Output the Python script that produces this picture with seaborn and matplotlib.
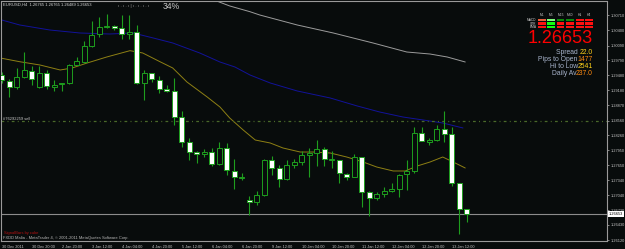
import matplotlib
matplotlib.use("Agg")
import matplotlib.pyplot as plt
from matplotlib.patches import Rectangle
import numpy as np
import pandas as pd
import seaborn as sns

# ---------------- data (EURUSD H4, 30 Dec 2011 - 13 Jan 2012) ----------------
opens = [1.29493, 1.29373, 1.29243, 1.29453, 1.29573, 1.29243, 1.29533, 1.29253, 1.29303, 1.29323,
         1.29693, 1.29753, 1.30073, 1.30323, 1.30463, 1.30493, 1.30453, 1.30323, 1.30363, 1.29323,
         1.29523, 1.29393, 1.29213, 1.29153, 1.28623, 1.28113, 1.27923, 1.27873, 1.27923, 1.27673,
         1.27993, 1.27533, 1.27383, 1.26943, 1.26893, 1.27043, 1.27753, 1.27583, 1.27363, 1.27643,
         1.27723, 1.27853, 1.27893, 1.27973, 1.27753, 1.27753, 1.27473, 1.27413, 1.27813, 1.27093,
         1.26973, 1.27053, 1.27123, 1.27163, 1.27463, 1.27533, 1.28313, 1.28113, 1.28153, 1.28383,
         1.28283, 1.27283, 1.26765]
highs = [1.29553, 1.29403, 1.29633, 1.29963, 1.29673, 1.29673, 1.29593, 1.29383, 1.29333, 1.29713,
         1.29863, 1.30173, 1.30583, 1.30673, 1.30743, 1.30503, 1.30703, 1.30713, 1.30503, 1.29593,
         1.29533, 1.29463, 1.29293, 1.29423, 1.28763, 1.28203, 1.27943, 1.27973, 1.27993, 1.28113,
         1.28093, 1.27783, 1.27493, 1.27023, 1.27133, 1.27773, 1.27833, 1.27653, 1.27753, 1.27773,
         1.27943, 1.27993, 1.28163, 1.28023, 1.27943, 1.27763, 1.27493, 1.27873, 1.27823, 1.27113,
         1.27093, 1.27213, 1.27283, 1.27463, 1.27753, 1.28433, 1.28433, 1.28203, 1.28473, 1.28763,
         1.28423, 1.27293, 1.26765]
lows = [1.29323, 1.29043, 1.29203, 1.29423, 1.29283, 1.29223, 1.29203, 1.29163, 1.29163, 1.29303,
        1.29683, 1.29743, 1.30063, 1.30273, 1.30443, 1.30403, 1.30223, 1.30223, 1.29313, 1.28973,
        1.29343, 1.29123, 1.29143, 1.28473, 1.28023, 1.27753, 1.27703, 1.27813, 1.27623, 1.27653,
        1.27443, 1.27163, 1.27343, 1.26640, 1.26833, 1.27023, 1.27443, 1.27213, 1.27343, 1.27583,
        1.27653, 1.27413, 1.27623, 1.27623, 1.27593, 1.27283, 1.27343, 1.27403, 1.26803, 1.26603,
        1.26943, 1.27003, 1.27103, 1.26993, 1.27143, 1.27493, 1.28133, 1.28063, 1.28143, 1.28113,
        1.27223, 1.26243, 1.26489]
closes = [1.29383, 1.29243, 1.29453, 1.29593, 1.29403, 1.29533, 1.29263, 1.29293, 1.29323, 1.29703,
          1.29773, 1.30083, 1.30313, 1.30463, 1.30493, 1.30443, 1.30323, 1.30363, 1.29323, 1.29523,
          1.29403, 1.29213, 1.29153, 1.28623, 1.28113, 1.27923, 1.27873, 1.27923, 1.27673, 1.27993,
          1.27543, 1.27403, 1.27403, 1.26893, 1.27043, 1.27753, 1.27583, 1.27363, 1.27643, 1.27723,
          1.27853, 1.27893, 1.27973, 1.27773, 1.27773, 1.27483, 1.27413, 1.27813, 1.27093, 1.26973,
          1.27053, 1.27123, 1.27163, 1.27453, 1.27533, 1.28303, 1.28143, 1.28163, 1.28383, 1.28283,
          1.27293, 1.26765, 1.26653]

# moving averages (bar position, price)
ma_slow_bar = [0, 2.4, 5.1, 7.8, 9.4, 11.4, 14, 17.1, 18.8, 21.1, 22.8, 24.7, 27.4, 29.1, 30.4, 32.2,
               33.8, 35.8, 37.5, 39.8, 41.5, 43.8, 46, 48.2, 50, 52.2, 53.8, 55.4, 57.1, 58.8, 60.2, 61.8]
ma_slow = [1.29830, 1.29760, 1.29693, 1.29591, 1.29632, 1.29734, 1.29856, 1.29985, 1.29938, 1.29760,
           1.29632, 1.29346, 1.29040, 1.28836, 1.28612, 1.28367, 1.28163, 1.28102, 1.28000, 1.27918,
           1.27918, 1.27898, 1.27816, 1.27714, 1.27612, 1.27531, 1.27531, 1.27633, 1.27714, 1.27816,
           1.27714, 1.27592]
ma_blue_bar = [0, 2.4, 6.4, 10.4, 14.4, 17.5, 20.2, 22.8, 26.4, 29.1, 31.1, 33.1, 35.8, 39.4, 43.8,
               47.4, 50.4, 53.5, 56.2, 58.8, 61.5]
ma_blue = [1.30611, 1.30509, 1.30407, 1.30346, 1.30325, 1.30346, 1.30244, 1.30142, 1.29938, 1.29754,
           1.29652, 1.29489, 1.29326, 1.29163, 1.29020, 1.28857, 1.28734, 1.28632, 1.28571, 1.28510,
           1.28408]
ma_gray_bar = [28.9, 30.4, 33.1, 34.4, 38.4, 39.4, 44.2, 49.5, 54, 57.1, 59.4, 61.8]
ma_gray = [1.30984, 1.30897, 1.30780, 1.30713, 1.30550, 1.30509, 1.30346, 1.30142, 1.29958, 1.29917,
           1.29856, 1.29754]

bid_price = 1.26653
order_price = 1.28557
order_label = "#76292259 sell"

price_ticks = [1.26120, 1.26430, 1.26730, 1.27040, 1.27340, 1.27650, 1.27950, 1.28260, 1.28560,
               1.28870, 1.29180, 1.29480, 1.29790, 1.30090, 1.30400, 1.30710]
time_tick_bars = [0, 4, 8, 12, 16, 20, 24, 28, 32, 36, 40, 44, 48, 52, 56, 60]
time_labels = ["30 Dec 2011", "30 Dec 20:00", "2 Jan 20:00", "3 Jan 12:00", "4 Jan 04:00",
               "4 Jan 20:00", "5 Jan 12:00", "6 Jan 04:00", "6 Jan 20:00", "9 Jan 12:00",
               "10 Jan 04:00", "10 Jan 20:00", "11 Jan 12:00", "12 Jan 04:00", "12 Jan 20:00",
               "13 Jan 12:00"]

header = "EURUSD,H4  1.26765 1.26765 1.26489 1.26653"
tf_names = ["M1", "M5", "M15", "M30", "H1", "H4"]
ind_names = ["MACD", "STR", "EMA"]
signal_colors = [["#E8603C", "#7CFF7C", "#0A8A0A", "#0A8A0A", "#FF1010", "#FF1010"],
                 ["#FF1010", "#10FF10", "#FF1010", "#FF1010", "#FF1010", "#FF1010"],
                 ["#FF1010", "#10FF10", "#FF1010", "#FF1010", "#FF1010", "#FF1010"]]
info_labels = ["Spread ", "Pips to Open", "Hi to Low", "Daily Av"]
info_values = ["22.0", "1477", "2541", "237.0"]
info_colors = ["#FFD21A", "#FF8A10", "#FFD21A", "#FF8A10"]

# ---------------- style ----------------
BG = "#080C0C"
GREEN = "#1E9E1E"
sns.set_theme(style="dark", rc={"axes.facecolor": BG, "figure.facecolor": BG,
                                "savefig.facecolor": BG})
plt.rcParams["font.family"] = ["Liberation Sans", "DejaVu Sans"]

W, H = 625, 249
fig = plt.figure(figsize=(W / 100, H / 100), dpi=100)


def fx(px):
    return px / W


def fy(py):
    return 1 - py / H


ax = fig.add_axes([fx(1), fy(241), fx(607) - fx(1), fy(1.5) - fy(241)])
ax.set_facecolor(BG)
ax.grid(False)

df = pd.DataFrame({"bar": np.arange(len(opens)), "open": opens, "high": highs,
                   "low": lows, "close": closes})
df["bull"] = df["close"] >= df["open"]
df["bottom"] = df[["open", "close"]].min(axis=1)
df["height"] = (df["close"] - df["open"]).abs().clip(lower=0.00005)

# moving averages
sns.lineplot(x=ma_gray_bar, y=ma_gray, ax=ax, color="#9C9C9C", linewidth=0.7,
             estimator=None, sort=False, legend=False, zorder=1)
sns.lineplot(x=ma_blue_bar, y=ma_blue, ax=ax, color="#12129A", linewidth=0.7,
             estimator=None, sort=False, legend=False, zorder=1)
sns.lineplot(x=ma_slow_bar, y=ma_slow, ax=ax, color="#8E8014", linewidth=0.7,
             estimator=None, sort=False, legend=False, zorder=1)

# order line and bid line
ax.axhline(order_price, color="#4A6A2A", lw=0.9, ls=(0, (2.2, 2.6, 0.8, 2.6)), zorder=1)
ax.text(0.2, order_price, order_label, fontsize=2.9, color="#C8C8C8", va="bottom", ha="left",
        zorder=5)
ax.axhline(bid_price, color="#8C8C8C", lw=0.8, zorder=1)

# candles
ax.vlines(df["bar"], df["low"], df["high"], color=GREEN, lw=0.8, zorder=2)
ax.bar(df["bar"], df["height"], bottom=df["bottom"], width=0.62,
       color=np.where(df["bull"], BG, "#FFFFFF"), edgecolor=GREEN, linewidth=0.7, zorder=3)

ax.set_xlim(-0.093, 80.7)
ax.set_ylim(1.26103, 1.30988)

ax.set_xticks(time_tick_bars)
ax.set_xticklabels(time_labels, ha="left")
ax.yaxis.tick_right()
ax.set_yticks(price_ticks)
ax.set_yticklabels([f"{p:.5f}" for p in price_ticks])
ax.tick_params(axis="both", colors="#B8B8B8", labelcolor="#C8C8C8", labelsize=2.8,
               length=1.6, width=0.5, pad=1.2, direction="out")
ax.tick_params(axis="x", pad=1.0)
for s in ax.spines.values():
    s.set_color("#9A9A9A")
    s.set_linewidth(0.8)
    s.set_visible(True)

# ---------------- overlay texts ----------------
fig.text(fx(3), fy(5), header, fontsize=3.0, color="#D8D8D8", ha="left", va="center")
fig.text(fx(118), fy(6.5), "ı . ı . ı | ı . ı . ı . ı", fontsize=3.2, color="#9A9A9A",
         ha="left", va="center")
fig.text(fx(163), fy(6.5), "34%", fontsize=6.2, color="#C8C8C8", ha="left", va="center")

# signal table
col_left = [538.3, 547.3, 556.7, 566, 576, 585]
row_top = [19, 22.4, 25.9]
for j, name in enumerate(tf_names):
    fig.text(fx(col_left[j] + 3.8), fy(15), name, fontsize=2.4, color="#C8C8C8",
             ha="center", va="center")
for i, name in enumerate(ind_names):
    fig.text(fx(536.5), fy(row_top[i] + 1.2), name, fontsize=2.3, color="#C8C8C8",
             ha="right", va="center")
    for j in range(len(tf_names)):
        fig.patches.append(Rectangle((fx(col_left[j]), fy(row_top[i] + 2.4)), fx(7.6),
                                     2.4 / H, transform=fig.transFigure,
                                     facecolor=signal_colors[i][j], edgecolor="none"))

fig.text(fx(593), fy(38.5), f"{bid_price:.5f}", fontsize=13, color="#FF0000",
         ha="right", va="center")

renderer = fig.canvas.get_renderer()
info_y = [52.5, 59.5, 66.5, 73.5]
for k in range(len(info_labels)):
    t = fig.text(fx(593), fy(info_y[k]), info_values[k], fontsize=4.9,
                 color=info_colors[k], ha="right", va="center", zorder=6)
    bb = t.get_window_extent(renderer)
    fig.text(bb.x0 / fig.bbox.width, fy(info_y[k]), info_labels[k], fontsize=4.9,
             color="#A8B4CC", ha="right", va="center", zorder=5)

# current price marker on the price scale
fig.text(fx(609), fy(214), f"{bid_price:.5f}", fontsize=2.8, color="#000000",
         ha="left", va="center",
         bbox=dict(boxstyle="square,pad=0.25", fc="#FFFFFF", ec="#FFFFFF", lw=0))

fig.text(fx(4), fy(233), "SignalBars by cube", fontsize=2.9, color="#B01010",
         ha="left", va="center")
fig.text(fx(3), fy(237.5), "FXDD Malta - MetaTrader 4, \u00a9 2001-2011 MetaQuotes Software Corp.",
         fontsize=2.9, color="#B8B8B8", ha="left", va="center")

fig.savefig("out.png", dpi=100, facecolor=BG)
